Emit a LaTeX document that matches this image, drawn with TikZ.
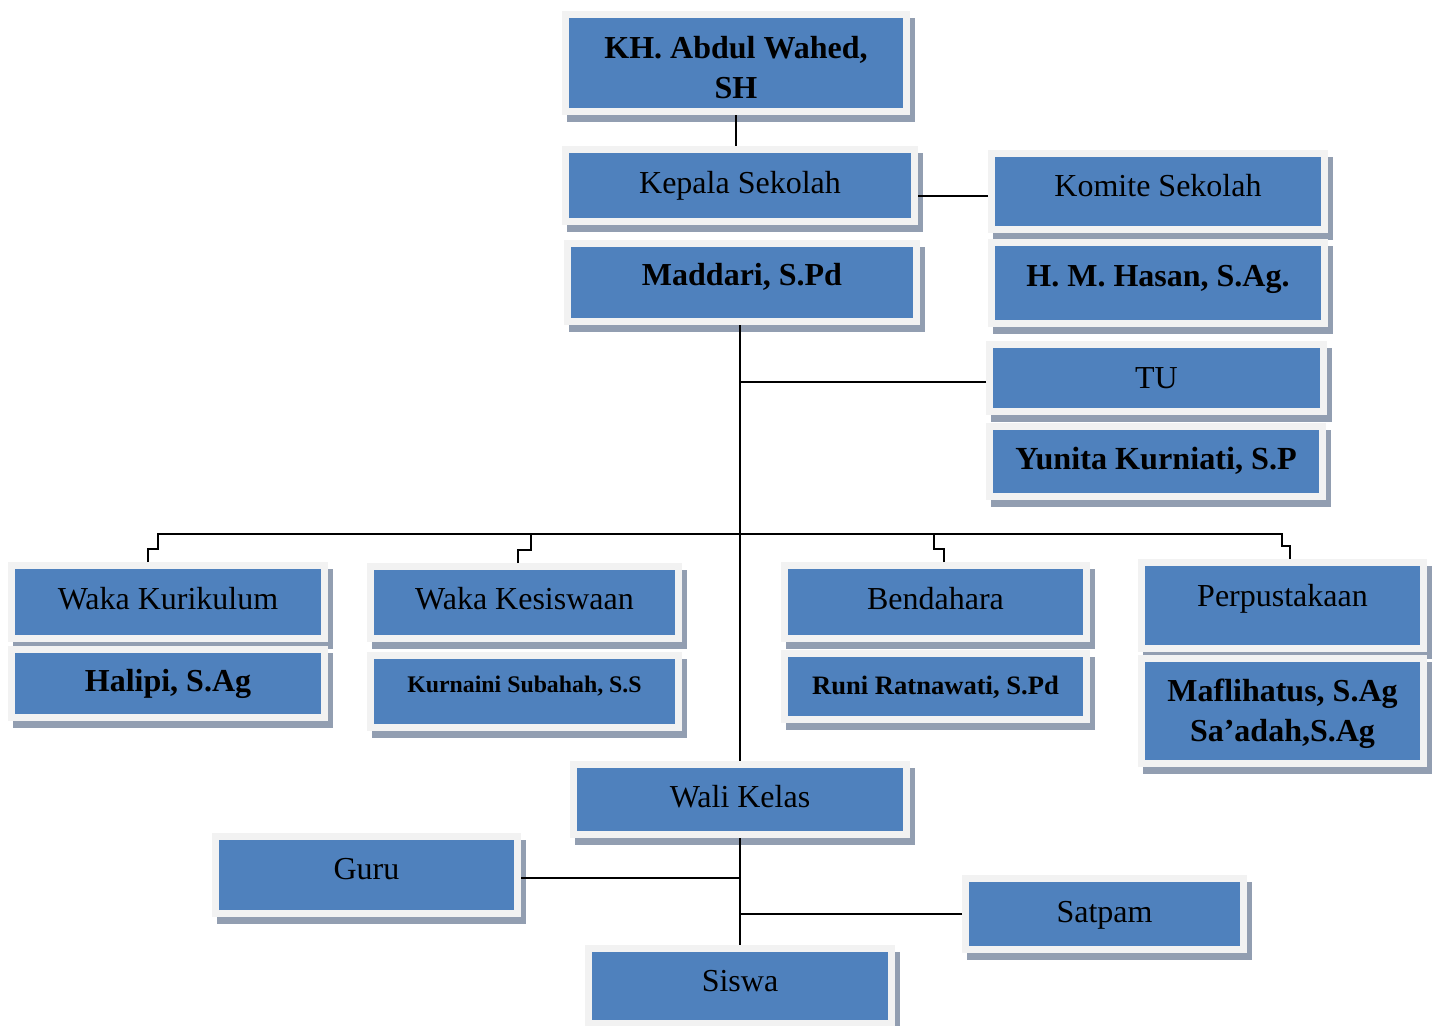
\documentclass[tikz,border=0pt]{standalone}
\usepackage{fontspec}
\setmainfont{Liberation Serif}
\usetikzlibrary{calc,shadows}
\definecolor{boxblue}{HTML}{4F81BD}
\definecolor{boxrim}{HTML}{F2F2F2}
\definecolor{boxshade}{HTML}{929EB1}
\newcommand\fbig{\fontsize{16}{20}\selectfont}
\newcommand\fsmall{\fontsize{11.9}{15}\selectfont\bfseries}
\tikzset{
  orgbox/.style={rectangle,fill=boxblue,draw=boxrim,line width=3.5pt,inner sep=0pt,
    align=center,font=\fbig,text height=11.5pt,text depth=3.5pt,
    drop shadow={shadow xshift=2.5pt,shadow yshift=-3.25pt,fill=boxshade,draw=boxshade,opacity=1}},
  person/.style={font=\fbig\bfseries},
  link/.style={draw=black,line width=1pt}
}
\begin{document}
\begin{tikzpicture}[x=0.5pt,y=-0.5pt]
  \useasboundingbox (0,0) rectangle (1434,1025);
  % top of the chart
  \node[orgbox,person,minimum width=170.5pt,minimum height=48.5pt,text height=35pt,text depth=0pt] (kh) at (736,63) {KH. Abdul Wahed,\\SH};
  \node[orgbox,minimum width=174.5pt,minimum height=36pt] (kepala) at (740,185.5) {Kepala Sekolah};
  \node[orgbox,person,minimum width=174.5pt,minimum height=39pt,text depth=9pt] (maddari) at (742,282.5) {Maddari, S.Pd};
  \node[orgbox,minimum width=166.5pt,minimum height=38pt,text depth=7pt] (komite) at (1158,191.5) {Komite Sekolah};
  \node[orgbox,person,minimum width=166.5pt,minimum height=40.5pt,text depth=8.5pt] (hasan) at (1158,283) {H. M. Hasan, S.Ag.};
  \node[orgbox,minimum width=167pt,minimum height=33.5pt,text depth=1pt] (tu) at (1156.5,378) {TU};
  \node[orgbox,person,minimum width=166.5pt,minimum height=35pt,font=\fontsize{16.1}{20}\selectfont\bfseries] (yunita) at (1156,461.5) {Yunita Kurniati, S.P};
  % wakil kepala dan bagian
  \node[orgbox,minimum width=156.5pt,minimum height=36.5pt,text depth=4.5pt] (wkur) at (168,602) {Waka Kurikulum};
  \node[orgbox,person,minimum width=156.5pt,minimum height=34pt] (halipi) at (168,683.5) {Halipi, S.Ag};
  \node[orgbox,minimum width=154pt,minimum height=36pt,text depth=5pt] (wkes) at (524.5,602.5) {Waka Kesiswaan};
  \node[orgbox,minimum width=154pt,minimum height=36pt,font=\fsmall,text height=8.5pt,text depth=8pt] (kurnaini) at (524.5,691.5) {Kurnaini Subahah, S.S};
  \node[orgbox,minimum width=151pt,minimum height=36.5pt,text depth=4.5pt] (bend) at (935.5,602) {Bendahara};
  \node[orgbox,minimum width=151pt,minimum height=33pt,font=\fontsize{13.3}{16}\selectfont\bfseries,text height=9.5pt,text depth=2pt] (runi) at (935.5,686.5) {Runi Ratnawati, S.Pd};
  \node[orgbox,minimum width=141pt,minimum height=43pt,text depth=11pt] (perpus) at (1282.5,605.5) {Perpustakaan};
  \node[orgbox,person,minimum width=141pt,minimum height=52.5pt,text height=33.5pt,text depth=3.5pt] (maflih) at (1282.5,711) {Maflihatus, S.Ag\\Sa’adah,S.Ag};
  % bawah
  \node[orgbox,minimum width=166.5pt,minimum height=35pt] (wali) at (740,799.5) {Wali Kelas};
  \node[orgbox,minimum width=151pt,minimum height=38.5pt,text depth=7.5pt] (guru) at (366.5,875) {Guru};
  \node[orgbox,minimum width=139pt,minimum height=35.5pt] (satpam) at (1104.5,914) {Satpam};
  \node[orgbox,minimum width=151.5pt,minimum height=37.5pt,text depth=6.5pt] (siswa) at (740,986) {Siswa};
  \coordinate (bus) at (740,534);
  % garis
  \draw[link] (kh.south) -- (kh.south |- kepala.north);
  \draw[link] ($(komite.west)+(0,4)$) coordinate (kk) -- (kk -| kepala.east);
  \draw[link] (maddari.south -| wali.north) -- (wali.north);
  \draw[link] ($(tu.west)+(0,4)$) coordinate (tt) -- (tt -| wali.north);
  \draw[link] ($(wkur.north)+(-20,0)$) -- ++(0,-13) -- ++(10,0) |- (bus);
  \draw[link] ($(wkes.north)+(-6.5,0)$) -- ++(0,-13) -- ++(13,0) |- (bus);
  \draw[link] ($(bend.north)+(8.5,0)$) -- ++(0,-13) -- ++(-10,0) |- (bus);
  \draw[link] ($(perpus.north)+(7.5,0)$) -- ++(0,-13) -- ++(-8,0) |- (bus);
  \draw[link] (wali.south) -- (siswa.north);
  \draw[link] ($(guru.east)+(0,3)$) coordinate (gg) -- (gg -| wali.south);
  \draw[link] (satpam.west) -- (satpam.west -| wali.south);
\end{tikzpicture}
\end{document}
